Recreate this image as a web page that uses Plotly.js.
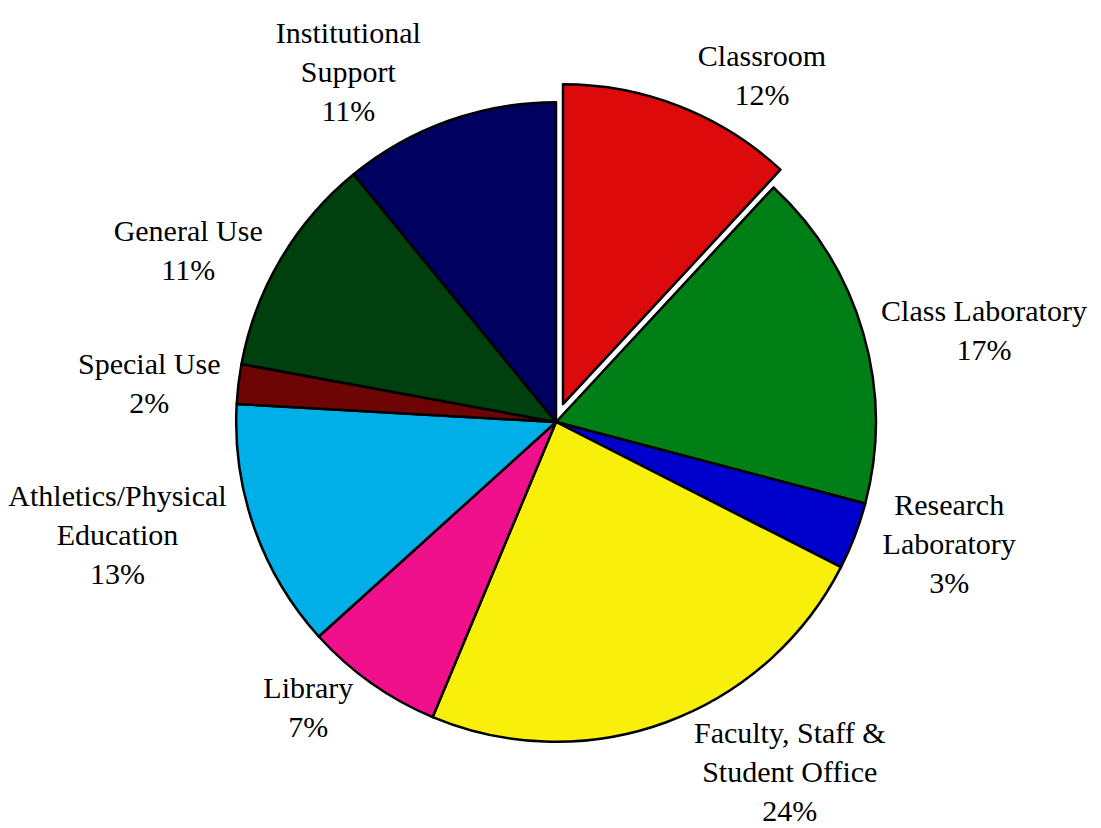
<!DOCTYPE html>
<html>
<head>
<meta charset="utf-8">
<script src="https://cdn.plot.ly/plotly-3.0.1.min.js"></script>
<style>html,body{margin:0;padding:0;background:#fff;}#chart{width:1101px;height:828px;}</style>
</head>
<body>
<div id="chart"></div>
<script>
const categories = [
  "Classroom",
  "Class Laboratory",
  "Research<br>Laboratory",
  "Faculty, Staff &<br>Student Office",
  "Library",
  "Athletics/Physical<br>Education",
  "Special Use",
  "General Use",
  "Institutional<br>Support"
];
const shares = [11.9, 17.2, 3.4, 23.8, 7.0, 12.6, 2.0, 11.2, 10.9];
const sliceColors = ["#DC0A0A", "#007F17", "#0000CC", "#F8F00A", "#F0108C", "#00AEE8", "#6E0505", "#00400E", "#000060"];
const pulls = [0.06, 0, 0, 0, 0, 0, 0, 0, 0];

Plotly.newPlot("chart", [{
  type: "pie",
  labels: categories,
  values: shares,
  sort: false,
  direction: "clockwise",
  rotation: 0,
  pull: pulls,
  marker: {colors: sliceColors, line: {color: "#000000", width: 2.5}},
  textposition: "outside",
  texttemplate: "%{label}<br>%{percent:.0%}",
  textfont: {family: "Liberation Serif, Times New Roman, serif", size: 30, color: "#000000"},
  hoverinfo: "label+percent",
  showlegend: false
}], {
  width: 1101,
  height: 828,
  margin: {l: 11, r: 0, t: 83, b: 67},
  paper_bgcolor: "#ffffff",
  plot_bgcolor: "#ffffff",
  showlegend: false
}, {displayModeBar: false, staticPlot: true});
</script>
</body>
</html>
